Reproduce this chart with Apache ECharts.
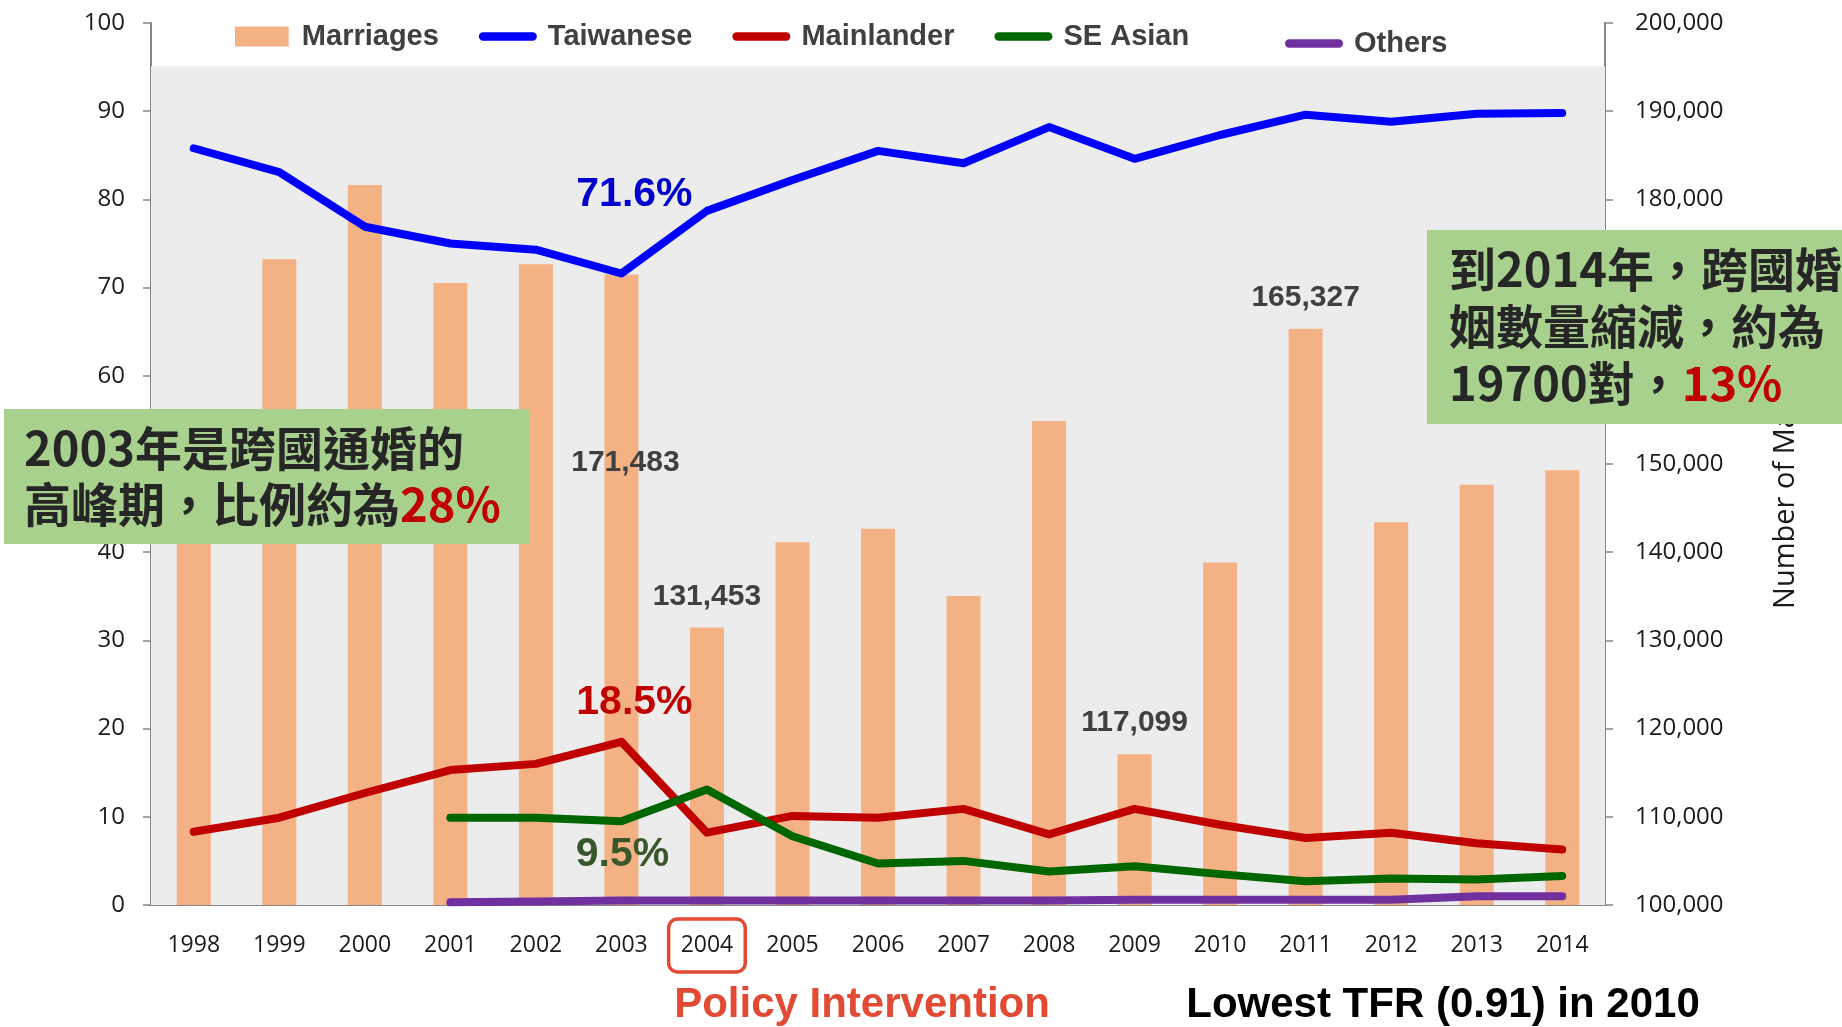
<!DOCTYPE html>
<html>
<head>
<meta charset="utf-8">
<script src="https://cdn.jsdelivr.net/npm/echarts@6/dist/echarts.min.js"></script>
<style>
  html, body { margin: 0; padding: 0; background: #fff; }
  #main { width: 1842px; height: 1027px; }
</style>
</head>
<body>
<div id="main"></div>
<script>
// data
var years = ['1998','1999','2000','2001','2002','2003','2004','2005','2006','2007','2008','2009','2010','2011','2012','2013','2014'];
var marriages = [145976,173209,181642,170515,172655,171483,131453,141140,142669,135041,154866,117099,138819,165327,143384,147636,149287];
var taiwanese = [85.8,83.1,76.9,75.0,74.3,71.6,78.7,82.2,85.5,84.1,88.2,84.6,87.3,89.6,88.8,89.7,89.8];
var mainlander = [8.3,9.9,12.7,15.3,16.0,18.5,8.2,10.1,9.9,10.9,8.0,10.9,9.1,7.6,8.2,7.0,6.3];
var seAsian = [null,null,null,9.9,9.9,9.5,13.1,7.8,4.7,5.0,3.8,4.4,3.5,2.7,3.0,2.9,3.3];
var others = [null,null,null,0.3,0.4,0.5,0.5,0.5,0.5,0.5,0.5,0.6,0.6,0.6,0.6,1.0,1.0];
var labeledBars = ['2003','2004','2009','2011'];
var peakYear = '2003';
var policyYear = '2004';

var latin = 'Liberation Sans';
var cjk = '"Noto Sans CJK TC"';
var axisColor = '#868686';
var lineIcon = 'path://M4,0H52A4,4,0,0,1,52,8H4A4,4,0,0,1,4,0Z';

var chart = echarts.init(document.getElementById('main'));

//bars, with a few value labels
var barData = marriages.map(function (v, i) {
    if (labeledBars.indexOf(years[i]) < 0) return v;
    var lab = {show: true};
    if (years[i] == peakYear) lab.offset = [4, 219];
    return {value: v, label: lab};
});

function lineData(arr, lab) {
    return arr.map(function (v, i) {
        if (years[i] != peakYear) return v;
        return {value: v, label: lab};
    });
}

function lineSeries(name, arr, color, lab) {
    return {
        name: name,
        type: 'line',
        data: lineData(arr, lab),
        symbol: 'circle',
        symbolSize: 1,
        itemStyle: {color: color},
        lineStyle: {color: color, width: 8, cap: 'round', join: 'round'},
        label: {
            show: false,
            formatter: '{c}%',
            fontFamily: latin,
            fontWeight: 'bold',
            fontSize: 41
        },
        z: 3
    };
}

var blue = lineSeries('Taiwanese', taiwanese, '#0000FF',
    {show: true, position: 'top', offset: [13, -53], color: '#0000CC'});
blue.markArea = {
    silent: true,
    itemStyle: {color: '#ECECEC'},
    label: {show: false},
    data: [[{yAxis: 0}, {yAxis: 95.1}]]
};

var legendText = {fontFamily: latin, fontWeight: 'bold', fontSize: 29, color: '#404040', padding: [0, 0, 0, 6]};

var option = {
    animation: false,
    backgroundColor: '#fff',
    grid: {left: 151, right: 237, top: 23, bottom: 122},
    legend: [{
        left: 230,
        top: 17,
        itemWidth: 58,
        itemHeight: 20,
        itemGap: 40,
        data: [
            {name: 'Marriages', icon: 'path://M0,0H51V19H0Z'},
            {name: 'Taiwanese', icon: lineIcon},
            {name: 'Mainlander', icon: lineIcon},
            {name: 'SE Asian', icon: lineIcon}
        ],
        textStyle: legendText
    }, {
        left: 1280,
        top: 24,
        itemWidth: 58,
        itemHeight: 20,
        data: [{name: 'Others', icon: lineIcon}],
        textStyle: legendText
    }],
    xAxis: {
        type: 'category',
        data: years,
        axisLine: {lineStyle: {color: axisColor, width: 2}},
        axisTick: {length: 9, lineStyle: {color: axisColor, width: 1.5}},
        axisLabel: {
            margin: 27,
            formatter: function (v) {
                return v == policyYear ? '{hl|' + v + '}' : '{n|' + v + '}';
            },
            rich: {
                n: {fontFamily: 'Open Sans', fontSize: 23, color: '#1a1a1a', lineHeight: 27, padding: [15, 12, 15, 12]},
                hl: {fontFamily: 'Open Sans', fontSize: 23, color: '#1a1a1a', lineHeight: 27, padding: [15, 12, 15, 12],
                    borderColor: '#E24A33', borderWidth: 3.5, borderRadius: 9}
            }
        }
    },
    yAxis: [{
        type: 'value',
        min: 0,
        max: 100,
        interval: 10,
        axisLine: {show: true, lineStyle: {color: axisColor, width: 2}},
        axisTick: {show: true, length: 8, lineStyle: {color: axisColor, width: 1.5}},
        axisLabel: {fontFamily: 'Open Sans', fontSize: 24, color: '#1a1a1a', margin: 26},
        splitLine: {show: true, showMaxLine: false, lineStyle: {color: '#8E8E8E', width: 2}}
    }, {
        type: 'value',
        position: 'right',
        min: 100000,
        max: 200000,
        interval: 10000,
        name: 'Number of Marriages',
        nameLocation: 'middle',
        nameRotate: 90,
        nameGap: 166,
        nameTextStyle: {fontFamily: 'Open Sans', fontSize: 29, color: '#1a1a1a'},
        axisLine: {show: true, lineStyle: {color: axisColor, width: 2}},
        axisTick: {show: true, length: 8, lineStyle: {color: axisColor, width: 1.5}},
        axisLabel: {
            fontFamily: 'Open Sans', fontSize: 24, color: '#1a1a1a', margin: 30,
            formatter: function (v) { return v.toLocaleString('en-US'); }
        },
        splitLine: {show: false}
    }],
    series: [
        {
            name: 'Marriages',
            type: 'bar',
            yAxisIndex: 1,
            barWidth: 34,
            itemStyle: {color: '#F4B183'},
            label: {
                show: false,
                position: 'top',
                distance: 16,
                fontFamily: latin,
                fontWeight: 'bold',
                fontSize: 30,
                color: '#404040',
                formatter: function (p) { return p.value.toLocaleString('en-US'); }
            },
            data: barData,
            z: 2
        },
        blue,
        lineSeries('Mainlander', mainlander, '#C00000',
            {show: true, position: 'top', offset: [13, -13], color: '#C00000'}),
        lineSeries('SE Asian', seAsian, '#006600',
            {show: true, position: 'bottom', offset: [1, 7], color: '#38572A'}),
        lineSeries('Others', others, '#7030A0', {show: false})
    ],
    graphic: [
        {type: 'rect', left: 4, top: 409, z: 100, shape: {width: 526, height: 135}, style: {fill: '#A9D18E'}},
        {
            type: 'text', x: 24, y: 420, z: 101,
            style: {
                text: '2003年是跨國通婚的\n高峰期，比例約為{r|28%}',
                fontFamily: cjk, fontWeight: 'bold', fontSize: 47, lineHeight: 56, fill: '#262626',
                verticalAlign: 'top',
                rich: {r: {fontFamily: cjk, fontWeight: 'bold', fontSize: 47, lineHeight: 56, fill: '#C00000'}}
            }
        },
        {type: 'rect', left: 1427, top: 230, z: 100, shape: {width: 420, height: 194}, style: {fill: '#A9D18E'}},
        {
            type: 'text', x: 1449, y: 241, z: 101,
            style: {
                text: '到2014年，跨國婚\n姻數量縮減，約為\n19700對，{r|13%}',
                fontFamily: cjk, fontWeight: 'bold', fontSize: 47, lineHeight: 57, fill: '#262626',
                verticalAlign: 'top',
                rich: {r: {fontFamily: cjk, fontWeight: 'bold', fontSize: 47, lineHeight: 57, fill: '#C00000'}}
            }
        },
        {
            type: 'text', x: 862, y: 1005, z: 101,
            style: {text: 'Policy Intervention', fontFamily: latin, fontWeight: 'bold', fontSize: 42,
                fill: '#E24A33', align: 'center', verticalAlign: 'middle'}
        },
        {
            type: 'text', x: 1443, y: 1005, z: 101,
            style: {text: 'Lowest TFR (0.91) in 2010', fontFamily: latin, fontWeight: 'bold', fontSize: 42,
                fill: '#000', align: 'center', verticalAlign: 'middle'}
        }
    ]
};

chart.setOption(option);
</script>
</body>
</html>
